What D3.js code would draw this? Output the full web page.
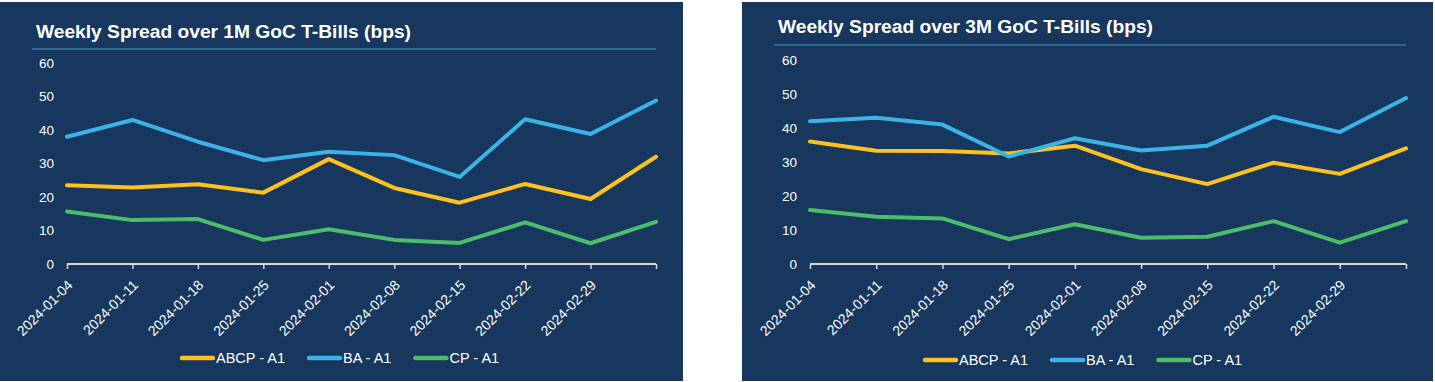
<!DOCTYPE html>
<meta charset="utf-8">
<head>
<style>
body { margin:0; background:#fff; font-family: Arial, "Liberation Sans", sans-serif; }
</style>
</head>
<body>
<script src="https://d3js.org/d3.v7.min.js"></script>
<script>

// weekly dates
var dates = ["2024-01-04","2024-01-11","2024-01-18","2024-01-25","2024-02-01",
             "2024-02-08","2024-02-15","2024-02-22","2024-02-29","2024-03-07"];
var tickLabels = ["2024-01-04","2024-01-11","2024-01-18","2024-01-25","2024-02-01",
                  "2024-02-08","2024-02-15","2024-02-22","2024-02-29",""];
var yTicks = [0,10,20,30,40,50,60];
var seriesNames = ["ABCP - A1","BA - A1","CP - A1"];
var seriesColors = ["#ffc11e","#3cb3e6","#4dbd6b"];

// 1M spreads (bps)
var abcp1M = [23.5, 22.8, 23.8, 21.3, 31.3, 22.7, 18.3, 23.9, 19.4, 32];
var ba1M   = [38, 43, 36.5, 31, 33.5, 32.5, 26, 43.2, 38.8, 48.8];
var cp1M   = [15.7, 13.1, 13.4, 7.2, 10.4, 7.2, 6.3, 12.4, 6.2, 12.6];

// 3M spreads (bps)
var abcp3M = [36, 33.3, 33.2, 32.5, 34.8, 27.9, 23.5, 29.8, 26.5, 34];
var ba3M   = [42, 43, 41, 31.6, 37, 33.4, 34.8, 43.3, 38.8, 48.8];
var cp3M   = [15.9, 13.9, 13.4, 7.3, 11.7, 7.7, 8.0, 12.6, 6.3, 12.6];

var svg = d3.select("body").append("svg")
    .attr("width",1435)
    .attr("height",382);

var parse = d3.timeParse("%Y-%m-%d");

function drawChart(o){
  var g = svg.append("g");

  // panel
  g.append("rect")
    .attr("x",o.px).attr("y",2)
    .attr("width",o.pw).attr("height",379)
    .attr("fill","#17375e");

  // title
  g.append("text")
    .attr("x",o.titleX).attr("y",o.titleY)
    .attr("fill","#fff")
    .attr("font-size","19.2px")
    .attr("font-weight","bold")
    .text(o.title);
  g.append("line")
    .attr("x1",o.titleX-4).attr("x2",o.x1)
    .attr("y1",o.ruleY).attr("y2",o.ruleY)
    .attr("stroke","#3e9bbd").attr("stroke-width",1.2);

  var x = d3.scaleTime()
      .domain([parse(dates[0]), parse(dates[dates.length-1])])
      .range([o.x0,o.x1]);
  var y = d3.scaleLinear().domain([0,60]).range([264,o.yTop]);

  // y labels
  g.selectAll(".ylab").data(yTicks).enter().append("text")
    .attr("x",o.yLabX)
    .attr("y",function(d){return y(d);})
    .attr("dy","0.35em")
    .attr("text-anchor","end")
    .attr("fill","#fff")
    .attr("font-size","13.5px")
    .text(function(d){return d;});

  // x axis
  var xa = g.append("g")
    .attr("transform","translate(0,264)")
    .call(d3.axisBottom(x)
      .tickValues(dates.map(parse))
      .tickSize(5)
      .tickFormat(function(d,i){return tickLabels[i];}));
  xa.select(".domain").attr("stroke","#d9d9d9").attr("stroke-width",2)
    .attr("d","M"+o.x0+",0H"+o.x1);
  xa.selectAll(".tick line").attr("stroke","#d9d9d9").attr("stroke-width",1.5);
  xa.selectAll(".tick text")
    .attr("fill","#fff")
    .attr("font-size","14px")
    .attr("font-family","Arial, 'Liberation Sans', sans-serif")
    .attr("text-anchor","end")
    .attr("transform","translate(6,22) rotate(-45)")
    .attr("y",0).attr("dy",0);

  // lines
  var line = d3.line()
    .x(function(d,i){return x(parse(dates[i]));})
    .y(function(d){return y(d);});

  o.series.forEach(function(s,k){
    g.append("path")
      .attr("d",line(s))
      .attr("fill","none")
      .attr("stroke",seriesColors[k])
      .attr("stroke-width",4)
      .attr("stroke-linejoin","round")
      .attr("stroke-linecap","round");
  });

  // legend
  var lx = o.legX;
  seriesNames.forEach(function(n,k){
    g.append("line")
      .attr("x1",lx+2).attr("x2",lx+33)
      .attr("y1",o.legY).attr("y2",o.legY)
      .attr("stroke",seriesColors[k])
      .attr("stroke-width",4.5)
      .attr("stroke-linecap","round");
    var t = g.append("text")
      .attr("x",lx+36).attr("y",o.legY)
      .attr("dy","0.35em")
      .attr("fill","#fff")
      .attr("font-size","14.5px")
      .text(n);
    lx = lx + 36 + t.node().getComputedTextLength() + 22;
  });
}

drawChart({
  px:0, pw:683,
  title:"Weekly Spread over 1M GoC T-Bills (bps)",
  titleX:36, titleY:38, ruleY:49,
  x0:67, x1:656, yTop:63, yLabX:54,
  legX:180, legY:358,
  series:[abcp1M, ba1M, cp1M]
});

drawChart({
  px:742, pw:691,
  title:"Weekly Spread over 3M GoC T-Bills (bps)",
  titleX:778, titleY:33, ruleY:45,
  x0:810, x1:1406, yTop:60, yLabX:797,
  legX:923, legY:360,
  series:[abcp3M, ba3M, cp3M]
});

</script>
</body>
